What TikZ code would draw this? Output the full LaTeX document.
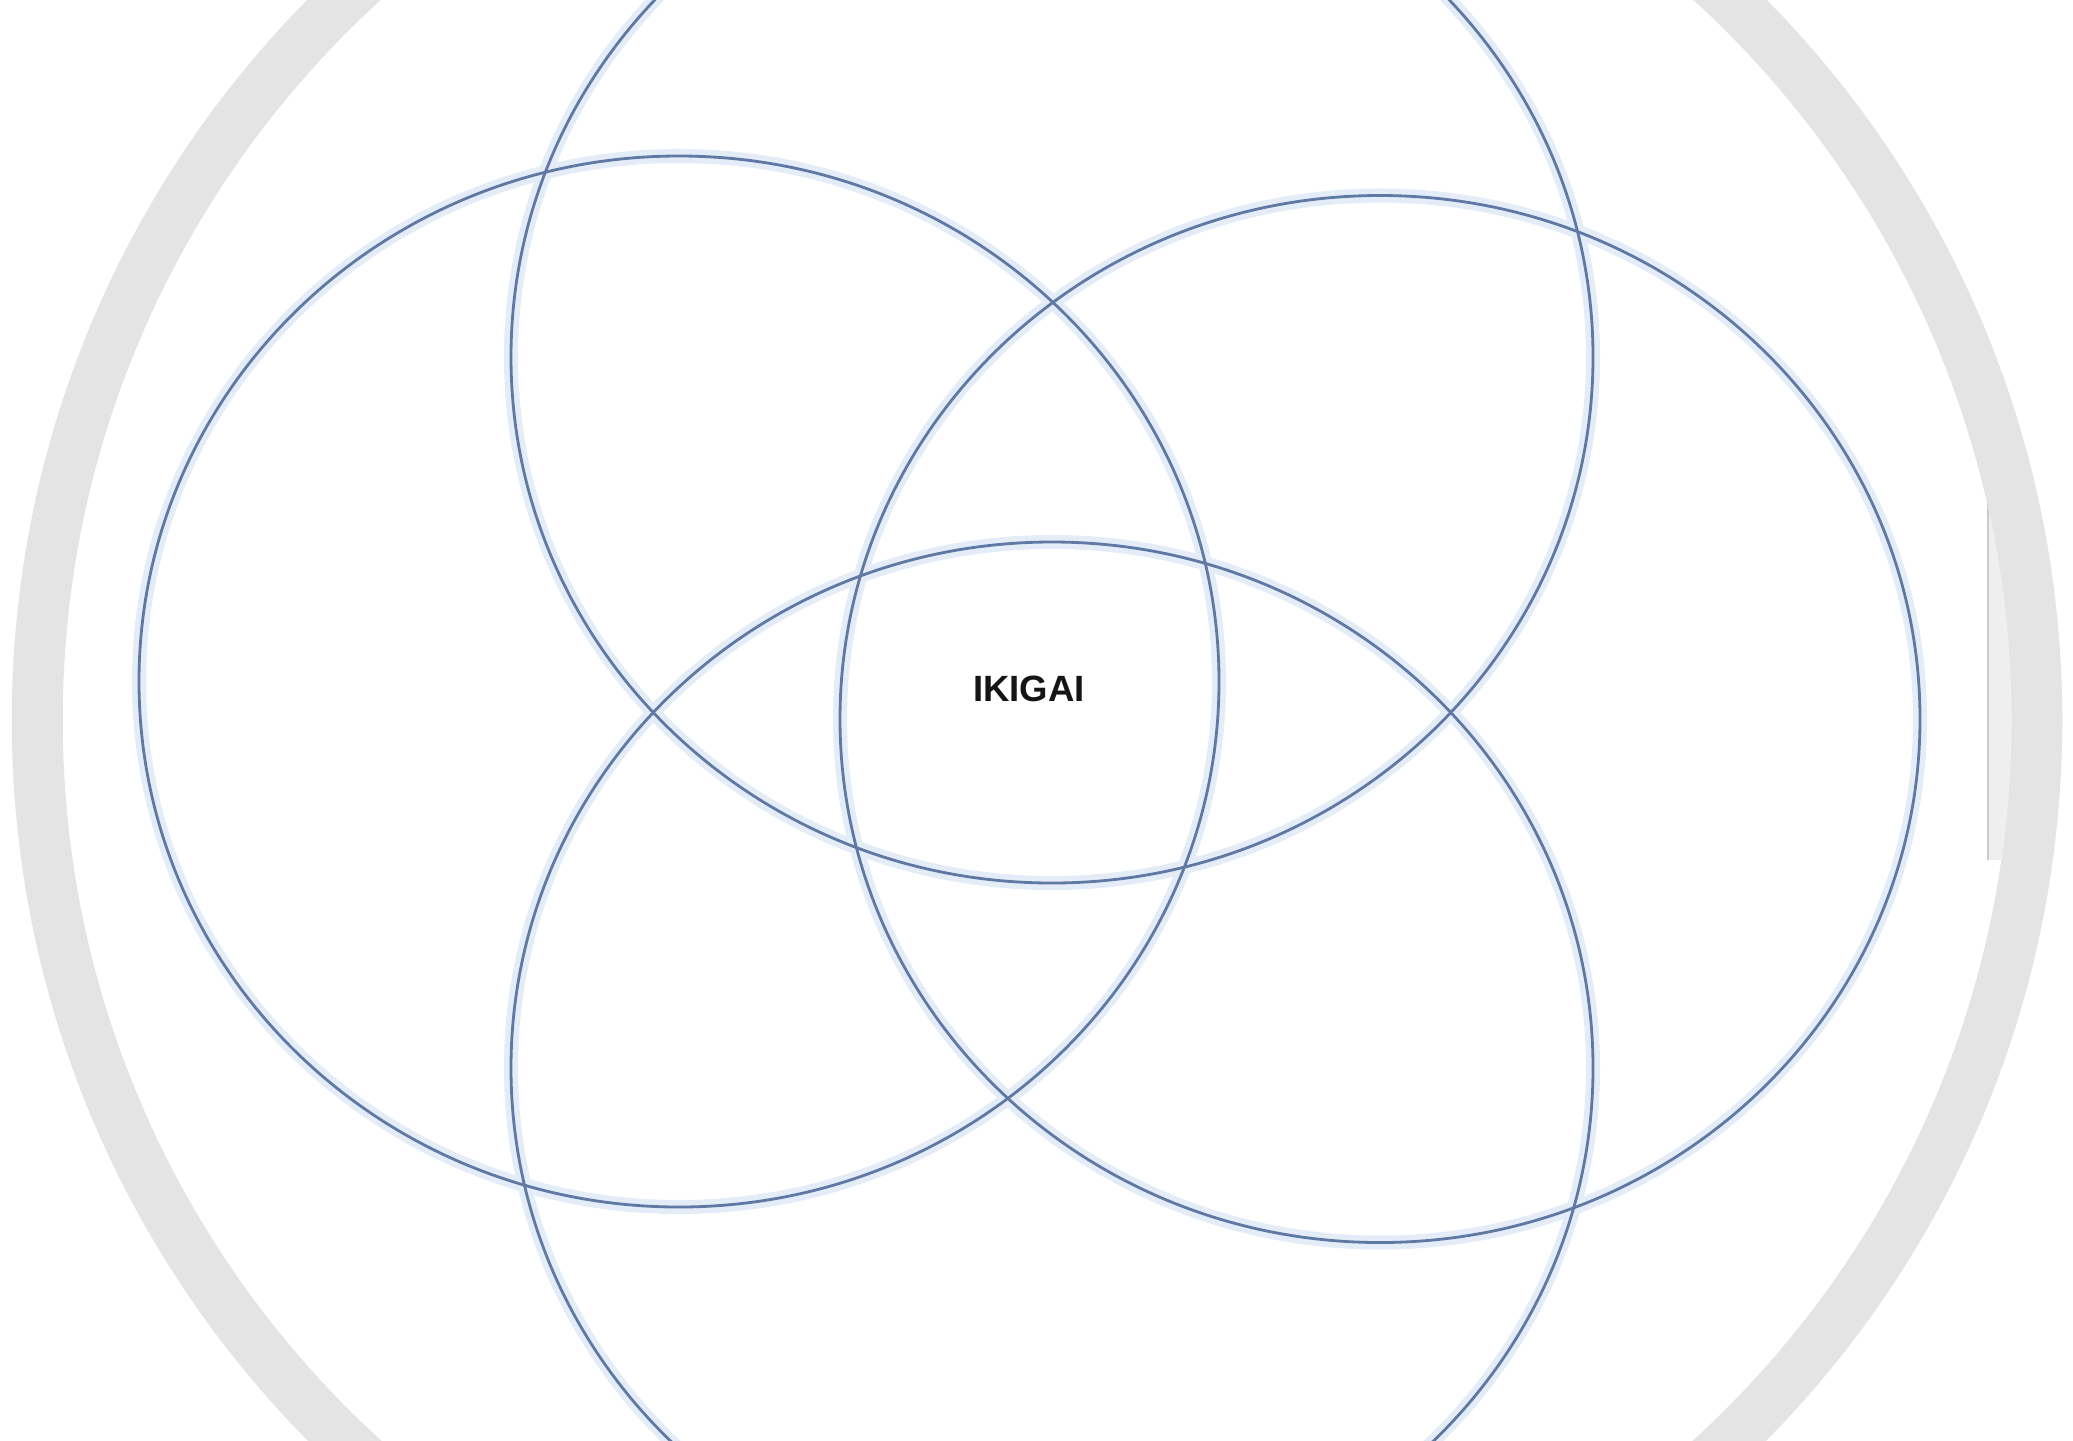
\documentclass[tikz,border=0pt]{standalone}
\usepackage{fontspec}
\setmainfont{Liberation Sans}
\usetikzlibrary{backgrounds}
\definecolor{inkc}{HTML}{151515}
\definecolor{petalc}{HTML}{6079A4}
\definecolor{haloc}{HTML}{E4EDF7}
\definecolor{bandc}{HTML}{E4E4E4}
\definecolor{pagec}{HTML}{EFEFEF}
\definecolor{edgec}{HTML}{CACACA}
\tikzset{
  petal/.style={draw=petalc,line width=.8pt},
  halo/.style ={draw=haloc,line width=4pt},
  band/.style ={draw=bandc,line width=.51cm},
  ttl/.style  ={font=\fontsize{10.4}{12}\selectfont\bfseries,text=inkc,inner sep=0pt},
}

\begin{document}
\begin{tikzpicture}
\useasboundingbox (0,0) rectangle (20.73,-14.40);
\clip (0,0) rectangle (20.73,-14.40);

% ---------- outer grey ring ----------------------------------------------
\coordinate (hub) at (10.37,-7.20);
\draw[band] (hub) circle (9.9975);
\begin{scope}
  \clip (hub) circle (9.745);
  \fill[pagec] (19.88,-4.97) rectangle (20.73,-8.60);
  \draw[edgec,line width=.6pt] (19.88,-4.97) -- (19.88,-8.60);
\end{scope}

% ---------- four petals --------------------------------------------------
\coordinate (top) at (10.52,-3.57);
\coordinate (lft) at (6.79,-6.815);
\coordinate (rgt) at (13.80,-7.19);
\coordinate (bot) at (10.52,-10.68);

\begin{scope}[on background layer]
  \draw[halo] (top) ellipse [x radius=5.41,y radius=5.26];
  \draw[halo] (lft) ellipse [x radius=5.40,y radius=5.255];
  \draw[halo] (rgt) ellipse [x radius=5.40,y radius=5.235];
  \draw[halo] (bot) ellipse [x radius=5.41,y radius=5.26];
\end{scope}
\draw[petal] (top) ellipse [x radius=5.41,y radius=5.26];
\draw[petal] (lft) ellipse [x radius=5.40,y radius=5.255];
\draw[petal] (rgt) ellipse [x radius=5.40,y radius=5.235];
\draw[petal] (bot) ellipse [x radius=5.41,y radius=5.26];

\node[ttl] (iki) at (10.29,-6.89) {IKIGAI};
\end{tikzpicture}
\end{document}
